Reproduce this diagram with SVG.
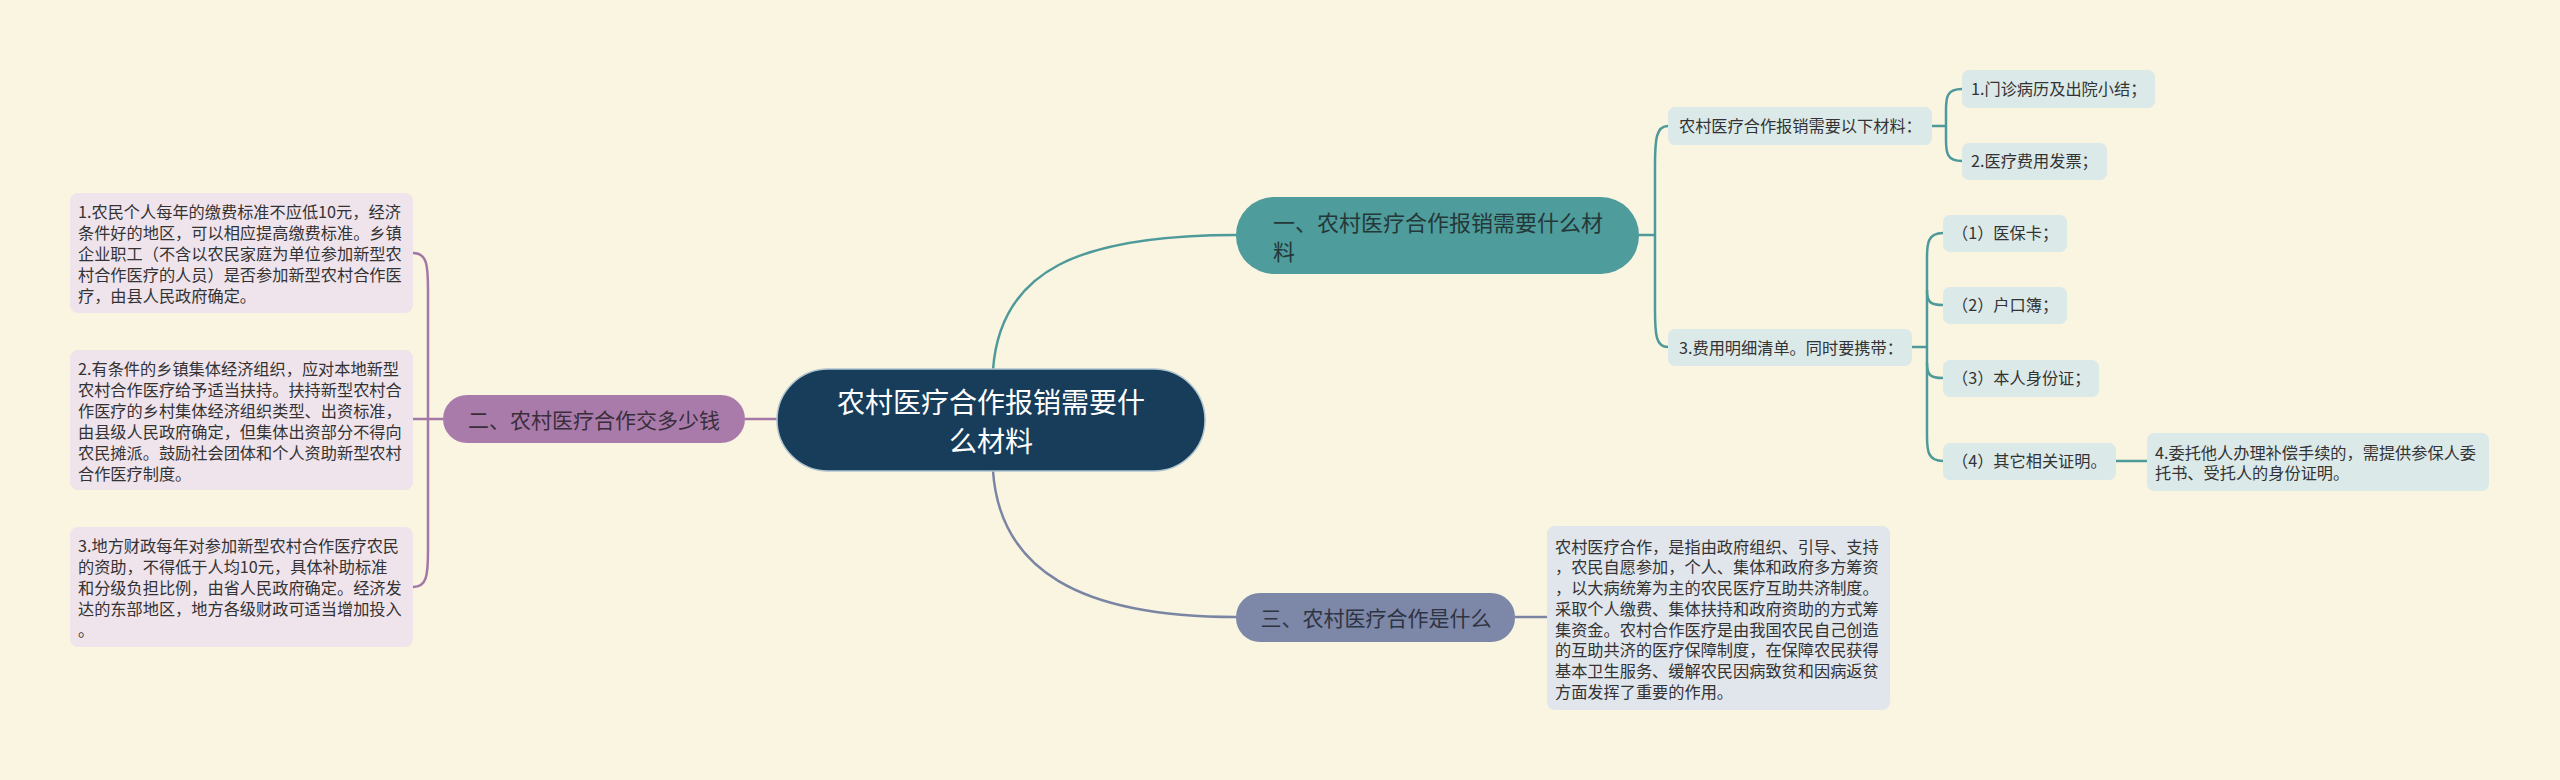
<svg xmlns="http://www.w3.org/2000/svg" width="2560" height="780" viewBox="0 0 2560 780">
<defs>
<style>
text{font-family:"Noto Sans CJK SC","Noto Sans",sans-serif}
.t16{font-size:16.2px;fill:#333333}
.lbox{fill:#EFE3EC}
.rbox{fill:#DCE9E9}
.sbox{fill:#E1E5EC}
.ct{stroke:#4E9A9A;stroke-width:2.5;fill:none}
.cp{stroke:#A478A6;stroke-width:2.5;fill:none}
.cs{stroke:#7A85A4;stroke-width:2.5;fill:none}
</style>
</defs>
<rect x="0" y="0" width="2560" height="780" fill="#FAF5E1"/>
<g id="connectors">
<path class="ct" d="M993,370 C1000,270 1080,235 1236,235"/>
<path class="cs" d="M993,471 C1000,570 1080,617 1236,617"/>
<path class="cp" d="M745,419 L777,419"/>
<path class="cp" d="M443,419 L413,419"/>
<path class="cp" d="M413,253 C427,253 428,265 428,290 L428,550 C428,575 427,587 413,587"/>
<path class="ct" d="M1639,235 L1655,235"/>
<path class="ct" d="M1668,126 C1656,126 1655,140 1655,165 L1655,310 C1655,335 1656,347 1668,347"/>
<path class="ct" d="M1932,126 L1946,126"/>
<path class="ct" d="M1962,89 C1947,89 1946,97 1946,110 L1946,140 C1946,153 1947,161 1962,161"/>
<path class="ct" d="M1912,347 L1927,347"/>
<path class="ct" d="M1943,233 C1928,233 1927,243 1927,258 L1927,436 C1927,451 1928,461 1943,461"/>
<path class="ct" d="M1927,290 C1927,302 1930,305 1943,305"/>
<path class="ct" d="M1927,363 C1927,375 1930,378 1943,378"/>
<path class="ct" d="M2116,461 L2147,461"/>
<path class="cs" d="M1515,617 L1547,617"/>
</g>
<g id="center">
<rect x="777" y="369" width="428" height="102" rx="51" fill="#173D5B" stroke="#AFC4CF" stroke-width="1.5"/>
<text x="991" y="413" font-size="28" fill="#FFFFFF" text-anchor="middle">农村医疗合作报销需要什</text>
<text x="991" y="452" font-size="28" fill="#FFFFFF" text-anchor="middle">么材料</text>
</g>
<g id="node1">
<rect x="1236" y="197" width="403" height="77" rx="38" fill="#4E9C9C"/>
<text x="1273" y="231" font-size="22" fill="#253838">一、农村医疗合作报销需要什么材</text>
<text x="1273" y="260" font-size="22" fill="#253838">料</text>
</g>
<g id="node2">
<rect x="443" y="395" width="302" height="48" rx="24" fill="#A87BAB"/>
<text x="594" y="427.5" font-size="21" fill="#3A2E3A" text-anchor="middle">二、农村医疗合作交多少钱</text>
</g>
<g id="node3">
<rect x="1236" y="593" width="279" height="49" rx="24" fill="#7D87A8"/>
<text x="1376" y="625.5" font-size="21" fill="#2E3442" text-anchor="middle">三、农村医疗合作是什么</text>
</g>
<g id="n1a">
<rect class="rbox" x="1668" y="107" width="264" height="38" rx="7"/>
<text class="t16" x="1679" y="132">农村医疗合作报销需要以下材料：</text>
</g>
<g id="n1a1">
<rect class="rbox" x="1962" y="70" width="193" height="38" rx="7"/>
<text class="t16" x="1971" y="95">1.门诊病历及出院小结；</text>
</g>
<g id="n1a2">
<rect class="rbox" x="1962" y="143" width="145" height="37" rx="7"/>
<text class="t16" x="1971" y="167">2.医疗费用发票；</text>
</g>
<g id="n1b">
<rect class="rbox" x="1668" y="329" width="244" height="37" rx="7"/>
<text class="t16" x="1679" y="353.5">3.费用明细清单。同时要携带：</text>
</g>
<g id="n1b1">
<rect class="rbox" x="1943" y="215" width="124" height="37" rx="7"/>
<text class="t16" x="1952" y="239">（1）医保卡；</text>
</g>
<g id="n1b2">
<rect class="rbox" x="1943" y="287" width="124" height="37" rx="7"/>
<text class="t16" x="1952" y="311">（2）户口簿；</text>
</g>
<g id="n1b3">
<rect class="rbox" x="1943" y="360" width="156" height="37" rx="7"/>
<text class="t16" x="1952" y="384">（3）本人身份证；</text>
</g>
<g id="n1b4">
<rect class="rbox" x="1943" y="443" width="173" height="37" rx="7"/>
<text class="t16" x="1952" y="467">（4）其它相关证明。</text>
</g>
<g id="n1b4a">
<rect class="rbox" x="2147" y="433" width="342" height="58" rx="7"/>
<text class="t16" x="2155" y="459">4.委托他人办理补偿手续的，需提供参保人委</text>
<text class="t16" x="2155" y="479">托书、受托人的身份证明。</text>
</g>
<g id="n2a">
<rect class="lbox" x="70" y="193" width="343" height="120" rx="8"/>
<text class="t16" x="78" y="218">1.农民个人每年的缴费标准不应低10元，经济</text>
<text class="t16" x="78" y="239">条件好的地区，可以相应提高缴费标准。乡镇</text>
<text class="t16" x="78" y="260">企业职工（不含以农民家庭为单位参加新型农</text>
<text class="t16" x="78" y="281">村合作医疗的人员）是否参加新型农村合作医</text>
<text class="t16" x="78" y="302">疗，由县人民政府确定。</text>
</g>
<g id="n2b">
<rect class="lbox" x="70" y="350" width="343" height="140" rx="8"/>
<text class="t16" x="78" y="375">2.有条件的乡镇集体经济组织，应对本地新型</text>
<text class="t16" x="78" y="396">农村合作医疗给予适当扶持。扶持新型农村合</text>
<text class="t16" x="78" y="417">作医疗的乡村集体经济组织类型、出资标准，</text>
<text class="t16" x="78" y="438">由县级人民政府确定，但集体出资部分不得向</text>
<text class="t16" x="78" y="459">农民摊派。鼓励社会团体和个人资助新型农村</text>
<text class="t16" x="78" y="480">合作医疗制度。</text>
</g>
<g id="n2c">
<rect class="lbox" x="70" y="527" width="343" height="120" rx="8"/>
<text class="t16" x="78" y="552">3.地方财政每年对参加新型农村合作医疗农民</text>
<text class="t16" x="78" y="573">的资助，不得低于人均10元，具体补助标准</text>
<text class="t16" x="78" y="594">和分级负担比例，由省人民政府确定。经济发</text>
<text class="t16" x="78" y="615">达的东部地区，地方各级财政可适当增加投入</text>
<text class="t16" x="78" y="636">。</text>
</g>
<g id="n3a">
<rect class="sbox" x="1547" y="526" width="343" height="184" rx="8"/>
<text class="t16" x="1555" y="552.7">农村医疗合作，是指由政府组织、引导、支持</text>
<text class="t16" x="1555" y="573.4">，农民自愿参加，个人、集体和政府多方筹资</text>
<text class="t16" x="1555" y="594.1">，以大病统筹为主的农民医疗互助共济制度。</text>
<text class="t16" x="1555" y="614.8">采取个人缴费、集体扶持和政府资助的方式筹</text>
<text class="t16" x="1555" y="635.5">集资金。农村合作医疗是由我国农民自己创造</text>
<text class="t16" x="1555" y="656.2">的互助共济的医疗保障制度，在保障农民获得</text>
<text class="t16" x="1555" y="676.9">基本卫生服务、缓解农民因病致贫和因病返贫</text>
<text class="t16" x="1555" y="697.6">方面发挥了重要的作用。</text>
</g>
</svg>
